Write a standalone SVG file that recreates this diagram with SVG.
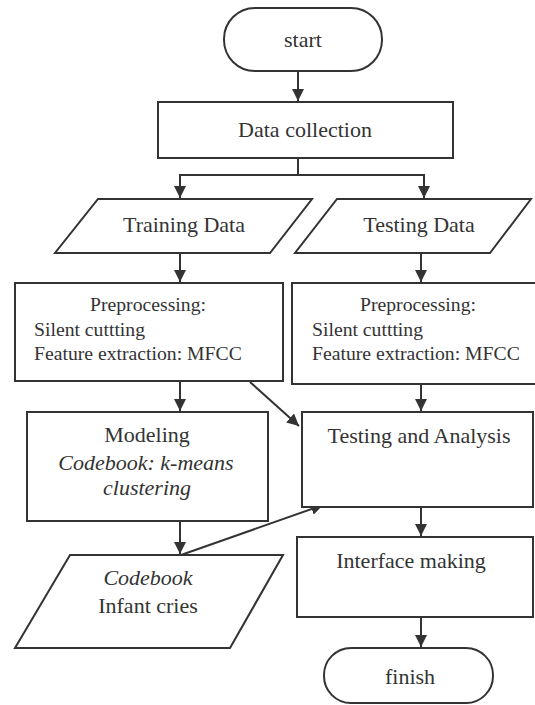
<svg xmlns="http://www.w3.org/2000/svg" width="535" height="705" viewBox="0 0 535 705">
<defs>
<style>
.s{fill:#fff;stroke:#333;stroke-width:2}
.c{fill:none;stroke:#333;stroke-width:2}
.t{font-family:'Liberation Serif','DejaVu Serif',serif;fill:#333;font-size:22px}
.m{text-anchor:middle}
.sm{font-size:19.7px}
.i{font-style:italic}
</style>
<marker id="ah" viewBox="0 0 10 10" refX="10" refY="5" markerWidth="6" markerHeight="6" orient="auto" markerUnits="strokeWidth">
<path d="M0,0 L10,5 L0,10 z" fill="#333"/>
</marker>
</defs>
<rect width="535" height="705" fill="#fff"/>
<g id="connectors">
<line class="c" x1="298" y1="71" x2="298" y2="101" marker-end="url(#ah)"/>
<polyline class="c" points="298,158 298,175 180,175 180,198" marker-end="url(#ah)"/>
<polyline class="c" points="298,175 424,175 424,198" marker-end="url(#ah)"/>
<line class="c" x1="180" y1="253" x2="180" y2="282" marker-end="url(#ah)"/>
<line class="c" x1="421" y1="253" x2="421" y2="282" marker-end="url(#ah)"/>
<line class="c" x1="180" y1="381" x2="180" y2="411" marker-end="url(#ah)"/>
<line class="c" x1="421" y1="384" x2="421" y2="411" marker-end="url(#ah)"/>
<line class="c" x1="250" y1="382" x2="299" y2="426" marker-end="url(#ah)"/>
<line class="c" x1="180" y1="521" x2="180" y2="554" marker-end="url(#ah)"/>
<line class="c" x1="181" y1="555" x2="323" y2="505" marker-end="url(#ah)"/>
<line class="c" x1="421" y1="507" x2="421" y2="536" marker-end="url(#ah)"/>
<line class="c" x1="421" y1="617" x2="421" y2="647" marker-end="url(#ah)"/>
</g>
<g id="start">
<rect class="s" x="224" y="8" width="158" height="63" rx="31" ry="31"/>
<text class="t m" x="303" y="47">start</text>
</g>
<g id="data-collection">
<rect class="s" x="158" y="102" width="295" height="56"/>
<text class="t m" x="305" y="137">Data collection</text>
</g>
<g id="training-data">
<polygon class="s" points="98,199 312,199 270,253 55,253"/>
<text class="t m" x="184" y="232">Training Data</text>
</g>
<g id="testing-data">
<polygon class="s" points="337,199 531,199 490,253 295,253"/>
<text class="t m" x="419" y="232">Testing Data</text>
</g>
<g id="preprocessing-train">
<rect class="s" x="15" y="283" width="268" height="98"/>
<text class="t m sm" x="148" y="311">Preprocessing:</text>
<text class="t sm" x="34" y="336">Silent cuttting</text>
<text class="t sm" x="34" y="360">Feature extraction: MFCC</text>
</g>
<g id="preprocessing-test">
<rect class="s" x="292" y="283" width="251" height="101"/>
<text class="t m sm" x="418" y="311">Preprocessing:</text>
<text class="t sm" x="312" y="336">Silent cuttting</text>
<text class="t sm" x="312" y="360">Feature extraction: MFCC</text>
</g>
<g id="modeling">
<rect class="s" x="27" y="412" width="241" height="109"/>
<text class="t m" x="147" y="442">Modeling</text>
<text class="t m i" x="146" y="470">Codebook: k-means</text>
<text class="t m i" x="147" y="495">clustering</text>
</g>
<g id="testing-analysis">
<rect class="s" x="302" y="412" width="231" height="95"/>
<text class="t m" x="419" y="443">Testing and Analysis</text>
</g>
<g id="codebook">
<polygon class="s" points="70,555 283,555 230,648 15,648"/>
<text class="t m i" x="148" y="585">Codebook</text>
<text class="t m" x="148" y="613">Infant cries</text>
</g>
<g id="interface-making">
<rect class="s" x="297" y="537" width="236" height="80"/>
<text class="t m" x="411" y="568">Interface making</text>
</g>
<g id="finish">
<rect class="s" x="324" y="648" width="169" height="55" rx="27" ry="27"/>
<text class="t m" x="410" y="684">finish</text>
</g>
</svg>
